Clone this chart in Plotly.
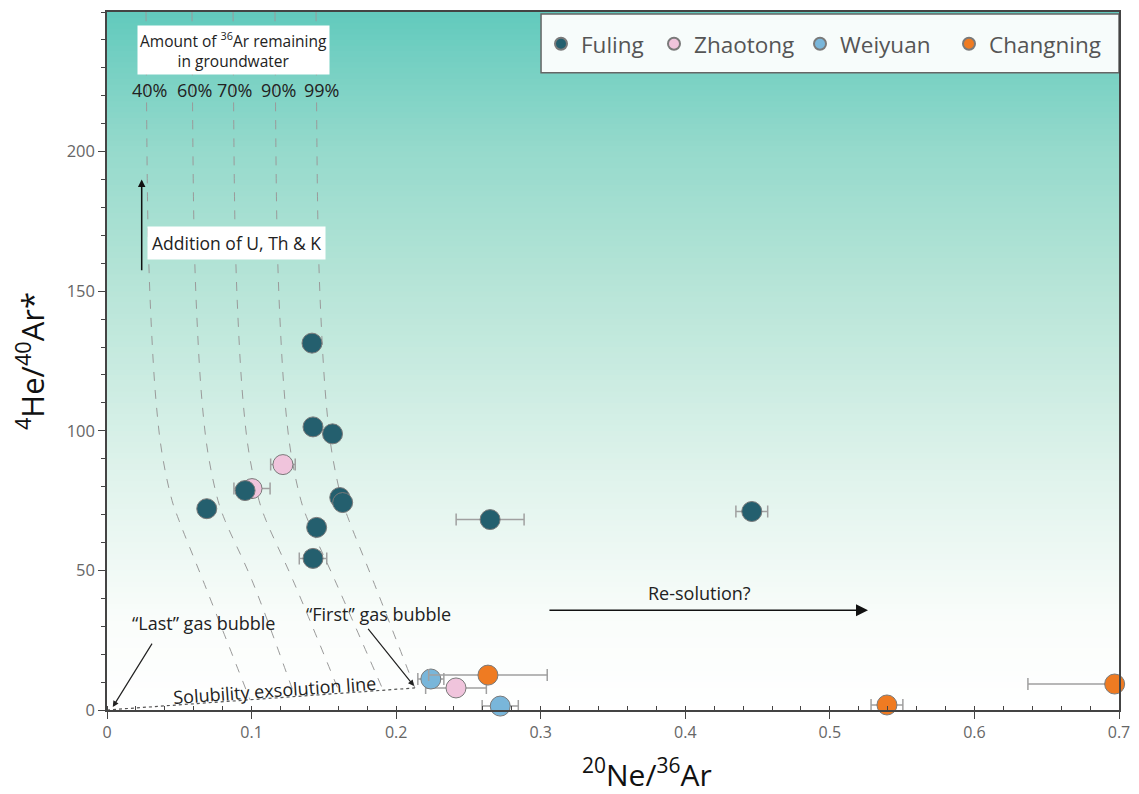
import plotly.graph_objects as go

# ---------------- data ----------------
fuling_x = [0.1418, 0.1425, 0.156, 0.0955, 0.069, 0.161, 0.163, 0.145, 0.1425, 0.265, 0.446]
fuling_y = [131.4, 101.4, 98.9, 78.6, 72.1, 76.1, 74.3, 65.4, 54.3, 68.2, 71.1]
fuling_err = [0, 0, 0, 0, 0, 0, 0, 0, 0.0095, 0.0235, 0.011]

zhaotong_x = [0.1217, 0.1003, 0.2414]
zhaotong_y = [87.9, 79.3, 7.9]
zhaotong_err = [0.0085, 0.0125, 0.021]

weiyuan_x = [0.224, 0.272]
weiyuan_y = [11.1, 1.4]
weiyuan_err = [0.009, 0.0125]

changning_x = [0.2635, 0.5395, 0.697]
changning_y = [12.5, 1.8, 9.3]
changning_err_plus = [0.041, 0.011, 0.003]
changning_err_minus = [0.041, 0.011, 0.06]

# fractionation curves (Amount of 36Ar remaining in groundwater)
curve_labels = ["40%", "60%", "70%", "90%", "99%"]
c40_x = [0.027, 0.0284, 0.0305, 0.0339, 0.0381, 0.045, 0.0498, 0.0664, 0.0989]
c40_y = [250, 171.4, 139.3, 110.7, 91.8, 75, 67.9, 46.4, 3.7]
c60_x = [0.0588, 0.0602, 0.0623, 0.0657, 0.0699, 0.0768, 0.0816, 0.1003, 0.130]
c60_y = [250, 171.4, 139.3, 110.7, 91.8, 75, 67.9, 46.4, 4.8]
c70_x = [0.0872, 0.0886, 0.0907, 0.0941, 0.0983, 0.1052, 0.110, 0.1287, 0.161]
c70_y = [250, 171.4, 139.3, 110.7, 91.8, 75, 67.9, 46.4, 6.0]
c90_x = [0.1162, 0.1176, 0.1197, 0.1231, 0.1273, 0.1342, 0.139, 0.1577, 0.191]
c90_y = [250, 171.4, 139.3, 110.7, 91.8, 75, 67.9, 46.4, 7.1]
c99_x = [0.1446, 0.146, 0.1481, 0.1515, 0.1557, 0.1626, 0.1674, 0.184, 0.213]
c99_y = [250, 171.4, 139.3, 110.7, 91.8, 75, 67.9, 46.4, 7.9]
curve_label_x = [0.0297, 0.0602, 0.0885, 0.1183, 0.1487]

solubility_x = [0, 0.213]
solubility_y = [0, 7.9]

x_ticks = [0, 0.1, 0.2, 0.3, 0.4, 0.5, 0.6, 0.7]
x_tick_text = ["0", "0.1", "0.2", "0.3", "0.4", "0.5", "0.6", "0.7"]
y_ticks = [0, 50, 100, 150, 200]

FONT = "Open Sans"
TXT = "#222"
fig = go.Figure()

# background gradient (stacked bands, each reaching the top to avoid seams)
grad_stops = [(0, (255, 255, 255)), (30, (250, 253, 251)), (80, (226, 244, 237)),
              (150, (184, 229, 216)), (200, (150, 218, 204)), (250, (98, 202, 189))]


def grad_color(v):
    for (a, ca), (b, cb) in zip(grad_stops[:-1], grad_stops[1:]):
        if a <= v <= b:
            f = (v - a) / (b - a)
            return tuple(int(round(ca[k] + (cb[k] - ca[k]) * f)) for k in range(3))
    return grad_stops[-1][1]


n_bands = 125
for i in range(n_bands):
    y0 = 250 * i / n_bands
    c = grad_color(y0 + 1)
    fig.add_shape(type="rect", xref="paper", yref="y", x0=0, x1=1, y0=y0, y1=250,
                  fillcolor=f"rgb({c[0]},{c[1]},{c[2]})", line=dict(width=0), layer="below")

# legend box
fig.add_shape(type="rect", xref="paper", yref="paper", x0=0.4289, x1=1.0, y0=0.9129, y1=0.997,
              fillcolor="#f7fcfb", line=dict(color="#666", width=1.5), layer="below")

# curves
for cx, cy in [(c40_x, c40_y), (c60_x, c60_y), (c70_x, c70_y), (c90_x, c90_y), (c99_x, c99_y)]:
    fig.add_trace(go.Scatter(x=cx, y=cy, mode="lines",
                             line=dict(color="#9a9a9a", width=1, dash="dash", shape="spline"),
                             showlegend=False, hoverinfo="skip"))

fig.add_trace(go.Scatter(x=solubility_x, y=solubility_y, mode="lines",
                         line=dict(color="#555", width=1.2, dash="dot"), showlegend=False, hoverinfo="skip"))

marker_line = dict(color="#7a7a7a", width=1)
err_style = dict(color="#a0a0a0", thickness=1.5, width=6)
MS = 20

fig.add_trace(go.Scatter(x=zhaotong_x, y=zhaotong_y, mode="markers", name="Zhaotong", legend="legend2",
                         marker=dict(size=MS, color="#f0c4dc", line=marker_line),
                         error_x=dict(type="data", array=zhaotong_err, **err_style), cliponaxis=False))
fig.add_trace(go.Scatter(x=weiyuan_x, y=weiyuan_y, mode="markers", name="Weiyuan", legend="legend3",
                         marker=dict(size=MS, color="#79b6da", line=marker_line),
                         error_x=dict(type="data", array=weiyuan_err, **err_style), cliponaxis=False))
fig.add_trace(go.Scatter(x=changning_x, y=changning_y, mode="markers", name="Changning", legend="legend4",
                         marker=dict(size=MS, color="#ef7b22", line=marker_line),
                         error_x=dict(type="data", symmetric=False, array=changning_err_plus,
                                      arrayminus=changning_err_minus, **err_style), cliponaxis=False))
fig.add_trace(go.Scatter(x=fuling_x, y=fuling_y, mode="markers", name="Fuling", legend="legend",
                         marker=dict(size=MS, color="#245f6e", line=marker_line),
                         error_x=dict(type="data", array=fuling_err, **err_style), cliponaxis=False))

ann = []
ann.append(dict(x=0.0878, y=236.4, text="Amount of <sup>36</sup>Ar remaining<br>in groundwater", showarrow=False,
                font=dict(size=15.5, color=TXT, family=FONT), bgcolor="white", borderpad=2))
for lx, lab in zip(curve_label_x, curve_labels):
    ann.append(dict(x=lx, y=222.1, text=lab, showarrow=False, font=dict(size=18, color=TXT, family=FONT)))
ann.append(dict(x=0.0899, y=167.1, text="Addition of U, Th &amp; K", showarrow=False,
                font=dict(size=17.5, color=TXT, family=FONT), bgcolor="white", borderpad=4))
# up arrow
ann.append(dict(x=0.024, y=190, ax=0.024, ay=157, xref="x", yref="y", axref="x", ayref="y", text="",
                showarrow=True, arrowhead=2, arrowsize=1, arrowwidth=1.5, arrowcolor="#111"))
# last gas bubble
ann.append(dict(x=0.0664, y=31.1, text="“Last” gas bubble", showarrow=False,
                font=dict(size=18, color=TXT, family=FONT)))
ann.append(dict(x=0.004, y=1.1, ax=0.0318, ay=24.3, xref="x", yref="y", axref="x", ayref="y", text="",
                showarrow=True, arrowhead=2, arrowsize=1, arrowwidth=1.2, arrowcolor="#222"))
# first gas bubble
ann.append(dict(x=0.1875, y=34.3, text="“First” gas bubble", showarrow=False,
                font=dict(size=18, color=TXT, family=FONT)))
ann.append(dict(x=0.2124, y=8.6, ax=0.1798, ay=29.6, xref="x", yref="y", axref="x", ayref="y", text="",
                showarrow=True, arrowhead=2, arrowsize=1, arrowwidth=1.2, arrowcolor="#222"))
# solubility text
ann.append(dict(x=0.116, y=7.3, text="Solubility exsolution line", showarrow=False, textangle=-4,
                font=dict(size=18, color=TXT, family=FONT)))
# re-solution
ann.append(dict(x=0.41, y=42.0, text="Re-solution?", showarrow=False, font=dict(size=18, color=TXT, family=FONT)))
ann.append(dict(x=0.5264, y=35.7, ax=0.305, ay=35.7, xref="x", yref="y", axref="x", ayref="y", text="",
                showarrow=True, arrowhead=2, arrowsize=1.6, arrowwidth=1.5, arrowcolor="#111"))
# x-axis title (placed as in the reference, right of centre)
ann.append(dict(x=0.5336, y=-0.09, xref="paper", yref="paper", xanchor="center", yanchor="middle",
                text="<sup>20</sup>Ne/<sup>36</sup>Ar",
                showarrow=False, font=dict(size=30, color="#111", family=FONT)))

leg_common = dict(bgcolor="rgba(0,0,0,0)", borderwidth=0, yanchor="middle", y=0.954, xanchor="left",
                  font=dict(size=22.5, color="#555", family=FONT), itemsizing="constant")

fig.update_layout(
    width=1131, height=786,
    margin=dict(l=99, r=20, t=2, b=84),
    paper_bgcolor="white", plot_bgcolor="white",
    annotations=ann,
    legend=dict(x=(541 - 107) / 1012, **leg_common),
    legend2=dict(x=(654 - 107) / 1012, **leg_common),
    legend3=dict(x=(800 - 107) / 1012, **leg_common),
    legend4=dict(x=(949 - 107) / 1012, **leg_common),
    xaxis=dict(range=[0, 0.7], tickvals=x_ticks, ticktext=x_tick_text, showgrid=False, zeroline=False,
               showline=True, linecolor="#444", linewidth=1.5, mirror=True,
               ticks="outside", ticklen=7, tickcolor="#444", tickwidth=1.2,
               minor=dict(dtick=0.02, ticks="inside", ticklen=4, tickcolor="#444", tickwidth=1),
               tickfont=dict(size=16, color="#666", family=FONT)),
    yaxis=dict(range=[0, 250], tickvals=y_ticks, showgrid=False, zeroline=False,
               showline=True, linecolor="#444", linewidth=1.5, mirror=True,
               ticks="outside", ticklen=7, tickcolor="#444", tickwidth=1.2,
               minor=dict(dtick=10, ticks="outside", ticklen=4, tickcolor="#444", tickwidth=1),
               tickfont=dict(size=16.5, color="#666", family=FONT),
               title=dict(text="<sup>4</sup>He/<sup>40</sup>Ar*", font=dict(size=31, color="#111", family=FONT),
                          standoff=14)),
)

fig.write_html("out.html")
